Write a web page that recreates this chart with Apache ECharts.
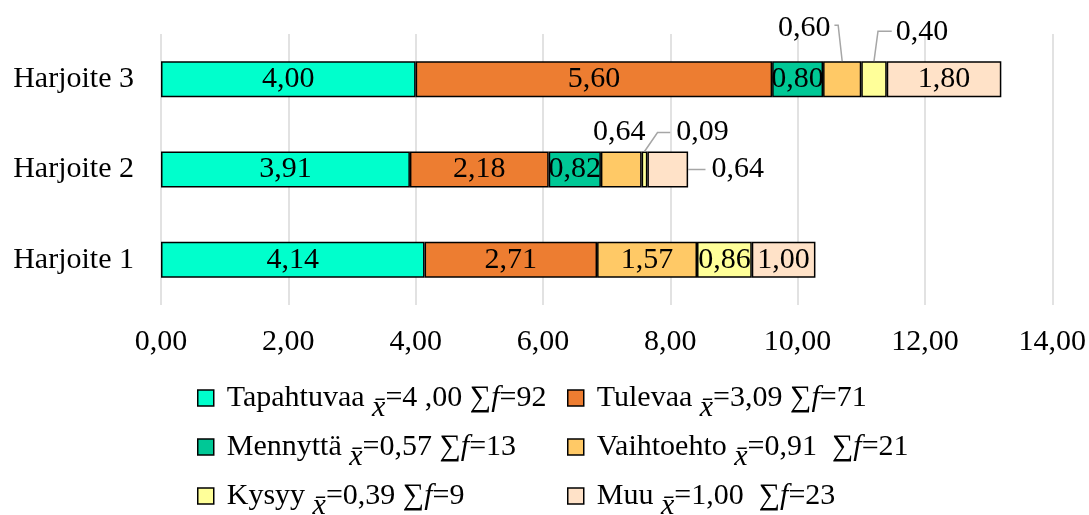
<!DOCTYPE html>
<html><head><meta charset="utf-8">
<script src="https://cdn.jsdelivr.net/npm/echarts@6/dist/echarts.min.js"></script>
<style>html,body{margin:0;padding:0;background:#fff}#c{width:1089px;height:515px}</style>
</head><body><div id="c"></div>
<script>
// ---- data ----
const categories = ['Harjoite 1', 'Harjoite 2', 'Harjoite 3'];
const seriesNames = ['Tapahtuvaa', 'Tulevaa', 'Mennyttä', 'Vaihtoehto', 'Kysyy', 'Muu'];
const tapahtuvaa = [4.14, 3.91, 4.00];
const tulevaa    = [2.71, 2.18, 5.60];
const mennytta   = [null, 0.82, 0.80];
const vaihtoehto = [1.57, 0.64, 0.60];
const kysyy      = [0.86, 0.09, 0.40];
const muu        = [1.00, 0.64, 1.80];
const legendMeans = ['4 ,00', '3,09', '0,57', '0,91', '0,39', '1,00'];
const legendSums  = ['92', '71', '13', '21', '9', '23'];
const xTickMin = 0, xTickMax = 14, xTickStep = 2;

// ---- style ----
const FONT = "'Liberation Serif', serif";
const FS = 30;
const BAR_W = 36;
const colors = ['#00FFCC', '#ED7D31', '#00C896', '#FFC966', '#FFFF99', '#FFE2C8'];
const legendGapBeforeSum = ['', '', '', ' ', '', ' '];
// label moves (pixels) for small segments: key "series-dataIndex"
const labelMoves = {
  '3-2': {dx: -38, dy: -51, line: 'leftElbow'},
  '4-2': {dx: 48, dy: -47, line: 'rightElbow'},
  '3-1': {dx: -2, dy: -37, line: null},
  '4-1': {dx: 58, dy: -37, line: 'rightDiag'},
  '5-1': {dx: 70, dy: 0, line: 'straight'}
};
const fmt = v => Number(v).toFixed(2).replace('.', ',');

const allValues = [tapahtuvaa, tulevaa, mennytta, vaihtoehto, kysyy, muu];

const series = allValues.map((vals, s) => ({
  name: seriesNames[s],
  type: 'bar',
  stack: 'total',
  barWidth: BAR_W,
  itemStyle: {color: colors[s], borderColor: '#000', borderWidth: 1.5},
  label: {
    show: true, position: 'inside', color: '#000',
    fontFamily: FONT, fontSize: FS,
    formatter: p => fmt(p.value)
  },
  labelLayout: p => {
    const m = labelMoves[p.seriesIndex + '-' + p.dataIndex];
    return m ? {dx: m.dx, dy: m.dy} : {};
  },
  emphasis: {disabled: true},
  data: vals.map(v => (v == null ? '-' : v))
}));

const legendText = name => {
  const i = seriesNames.indexOf(name);
  return '{n|' + name + ' }{x|x\u0304}{n|=' + legendMeans[i] + legendGapBeforeSum[i] + ' \u2211}{f|f}{n|=' + legendSums[i] + '}';
};
const rich = {
  n: {fontFamily: FONT, fontSize: FS, color: '#000', lineHeight: 30, verticalAlign: 'top', padding: [0, 0, 10, 0]},
  x: {fontFamily: FONT, fontSize: FS, fontStyle: 'italic', color: '#000', lineHeight: 30, verticalAlign: 'top', padding: [10, 0, 0, 0]},
  f: {fontFamily: FONT, fontSize: FS, fontStyle: 'italic', color: '#000', lineHeight: 30, verticalAlign: 'top', padding: [0, 0, 10, 0]}
};
const legendBase = {
  orient: 'vertical',
  padding: 0,
  itemWidth: 16, itemHeight: 16,
  itemGap: 9,
  height: 300,
  icon: 'rect',
  itemStyle: {borderColor: '#000', borderWidth: 1.5},
  formatter: legendText,
  textStyle: {rich: rich, padding: [0, 0, 0, 8]},
  selectedMode: false
};

const chart = echarts.init(document.getElementById('c'));
chart.setOption({
  animation: false,
  backgroundColor: '#fff',
  grid: {left: 161, right: 33, top: 34, height: 271},
  xAxis: {
    type: 'value', min: xTickMin, max: xTickMax, interval: xTickStep,
    axisLine: {show: false}, axisTick: {show: false},
    splitLine: {lineStyle: {color: '#D9D9D9', width: 1.5}},
    axisLabel: {fontFamily: FONT, fontSize: FS, color: '#000', margin: 22, formatter: v => fmt(v)}
  },
  yAxis: {
    type: 'category', data: categories,
    axisLine: {show: false}, axisTick: {show: false},
    axisLabel: {fontFamily: FONT, fontSize: FS, color: '#000', margin: 27}
  },
  legend: [
    Object.assign({}, legendBase, {left: 197, top: 383, data: [seriesNames[0], seriesNames[2], seriesNames[4]]}),
    Object.assign({}, legendBase, {left: 567, top: 383, data: [seriesNames[1], seriesNames[3], seriesNames[5]]})
  ],
  series: series
});

// ---- leader lines, positioned through the chart's own scales ----
const ctx = document.createElement('canvas').getContext('2d');
ctx.font = FS + 'px ' + FONT;
const lines = [];
Object.keys(labelMoves).forEach(key => {
  const m = labelMoves[key];
  if (!m.line) return;
  const [s, i] = key.split('-').map(Number);
  let start = 0;
  for (let k = 0; k < s; k++) start += allValues[k][i] || 0;
  const end = start + allValues[s][i];
  const x0 = chart.convertToPixel({xAxisIndex: 0}, start);
  const x1 = chart.convertToPixel({xAxisIndex: 0}, end);
  const yc = chart.convertToPixel({yAxisIndex: 0}, i);
  const cx = (x0 + x1) / 2, top = yc - BAR_W / 2;
  const hw = ctx.measureText(fmt(allValues[s][i])).width / 2;
  const lcx = cx + m.dx, lcy = yc + m.dy;
  let pts;
  if (m.line === 'leftElbow') pts = [[lcx + hw + 4, lcy - 3], [cx - 4, lcy - 3], [cx, top]];
  else if (m.line === 'rightElbow') pts = [[cx, top], [cx + 4, lcy - 1], [lcx - hw - 4, lcy - 1]];
  else if (m.line === 'rightDiag') pts = [[cx, top], [cx + 13, lcy], [lcx - hw - 6, lcy]];
  else pts = [[x1, yc], [lcx - hw - 6, yc]];
  lines.push({type: 'polyline', silent: true, z: 5, shape: {points: pts},
    style: {stroke: '#A6A6A6', lineWidth: 1.5, fill: null}});
});
chart.setOption({graphic: lines});
</script>
</body></html>
